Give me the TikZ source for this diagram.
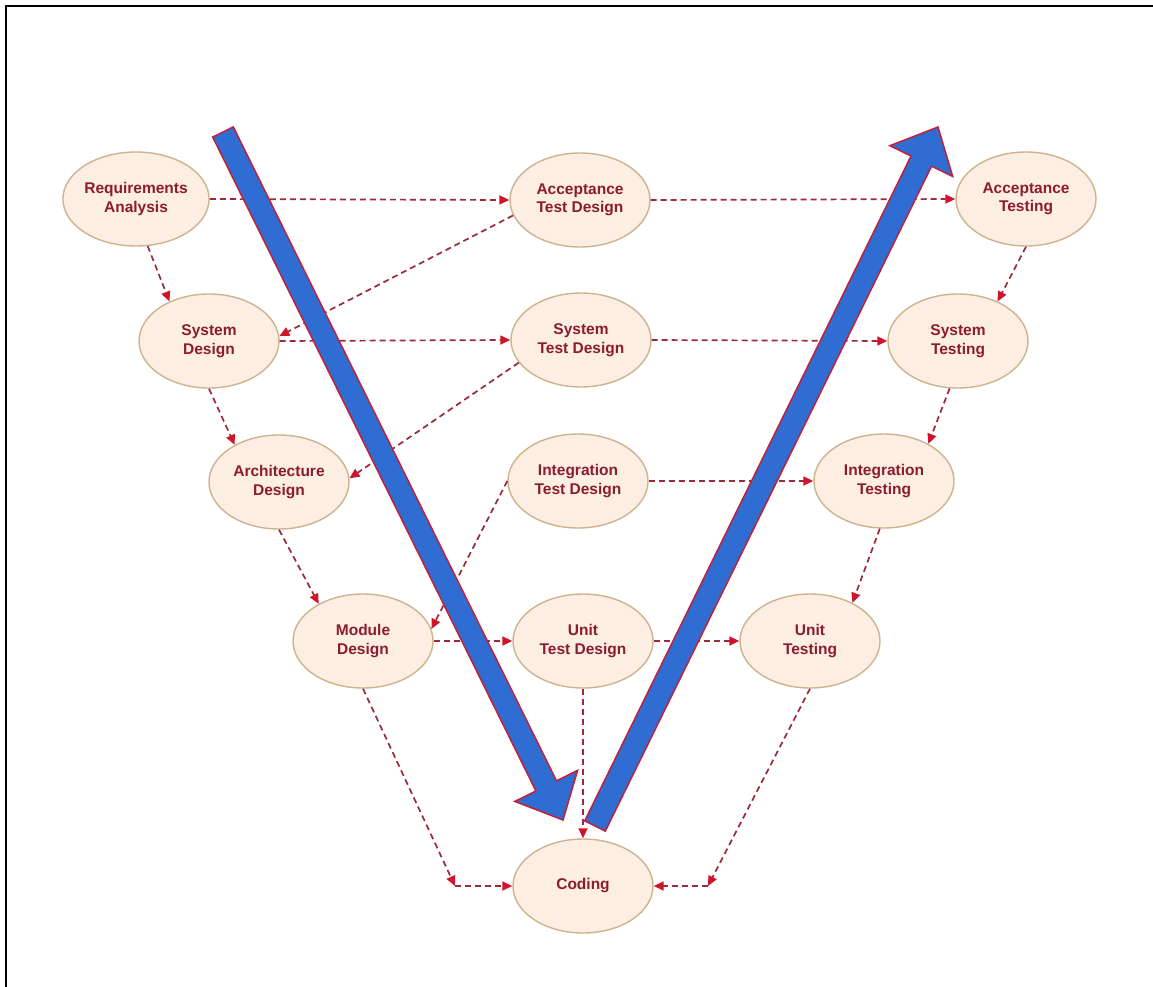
\documentclass[tikz,border=0pt]{standalone}
\usepackage{fontspec}
\setmainfont{Liberation Sans}
\usetikzlibrary{arrows.meta,shapes.geometric}
\definecolor{txtred}{HTML}{8C1C2C}
\definecolor{ellfill}{HTML}{FCEEE2}
\definecolor{elldraw}{HTML}{CDB38E}
\definecolor{dashred}{HTML}{9C2A3A}
\definecolor{tipred}{HTML}{D0142A}
\definecolor{vblue}{HTML}{2F6DD2}
\definecolor{vedge}{HTML}{C0203A}
\tikzset{
  phase/.style={ellipse, draw=elldraw, fill=ellfill, line width=1.4pt,
    minimum width=140pt, minimum height=94pt, inner sep=0pt, align=center,
    text=txtred, font=\fontsize{15.5}{18.5}\selectfont\bfseries},
  link/.style={draw=dashred, line width=1.7pt, dash pattern=on 6pt off 4pt,
    -{Triangle[length=10pt,width=9pt,fill=tipred,color=tipred]}},
  vbar/.style={fill=vblue, draw=vedge, line width=1.5pt, line join=miter}
}
\begin{document}
\begin{tikzpicture}[x=1pt,y=-1pt]
\useasboundingbox (0,0) rectangle (1153,987);
\fill[white] (0,0) rectangle (1153,987);
\draw[line width=2.2pt] (6,987) -- (6,6) -- (1153,6);

% nodes
\node[phase] (ra)  at (136,199) {Requirements\\Analysis};
\node[phase] (atd) at (580,200) {Acceptance\\Test Design};
\node[phase] (at)  at (1026,199) {Acceptance\\Testing};
\node[phase] (sd)  at (209,341) {System\\Design};
\node[phase] (std) at (581,340) {System\\Test Design};
\node[phase] (st)  at (958,341) {System\\Testing};
\node[phase] (ad)  at (279,482) {Architecture\\Design};
\node[phase] (itd) at (578,481) {Integration\\Test Design};
\node[phase] (it)  at (884,481) {Integration\\Testing};
\node[phase] (md)  at (363,641) {Module\\Design};
\node[phase] (utd) at (583,641) {Unit\\Test Design};
\node[phase] (ut)  at (810,641) {Unit\\Testing};
\node[phase] (cod) at (583,886) {Coding};
\coordinate (c1) at (455,886);
\coordinate (c2) at (708,886);

% connectors
\draw[link] (ra.east) -- (atd.west);
\draw[link] (atd.east) -- (at.west);
\draw[link] (ra.-76) -- (sd.135);
\draw[link] (atd.193) -- (sd.4);
\draw[link] (sd.east) -- (std.west);
\draw[link] (std.east) -- (st.west);
\draw[link] (at.-90) -- (st.45);
\draw[link] (sd.-90) -- (ad.140);
\draw[link] (std.200) -- (ad.3);
\draw[link] (st.-100) -- (it.40);
\draw[link] (itd.east) -- (it.west);
\draw[link] (ad.-90) -- (md.140);
\draw[link] (itd.west) -- (md.10);
\draw[link] (md.east) -- (utd.west);
\draw[link] (it.-95) -- (ut.42);
\draw[link] (utd.east) -- (ut.west);
\draw[link] (md.-90) -- (c1);
\draw[link] (c1) -- (cod.west);
\draw[link] (utd.south) -- (cod.north);
\draw[link] (ut.-90) -- (c2);
\draw[link] (c2) -- (cod.east);

% big V arrows
\draw[vbar] (233.3,126.9) -- (556.5,780.8) -- (577.6,770.4) -- (563,820)
  -- (514.8,801.4) -- (535.9,791.0) -- (212.7,137.1) -- cycle;
\draw[vbar] (584.7,820.9) -- (911.0,156.0) -- (889.9,145.7) -- (938,127)
  -- (952.7,176.5) -- (931.6,166.2) -- (605.3,831.1) -- cycle;
\end{tikzpicture}
\end{document}
